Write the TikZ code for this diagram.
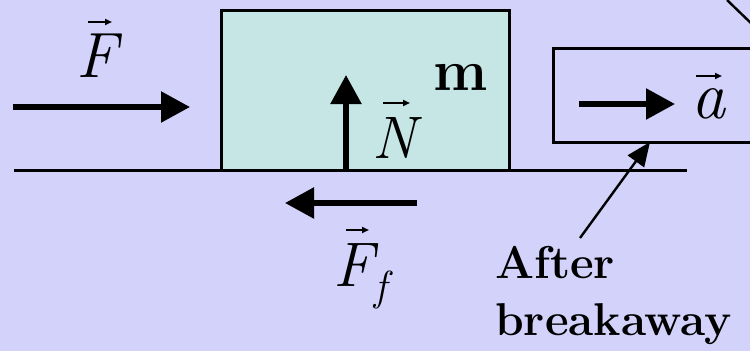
\documentclass[tikz,border=0pt]{standalone}
\usepackage{fontspec}
\usetikzlibrary{arrows.meta}
\definecolor{bg}{RGB}{210,210,250}
\definecolor{blockfill}{RGB}{198,229,229}
\tikzset{
  force/.style={line width=5.5pt, -{Triangle[length=29pt,width=30pt]}},
  accent/.style={line width=2pt, -{Triangle[length=7pt,width=6pt]}},
  pointer/.style={line width=2.4pt, -{Triangle[length=24pt,width=20pt]}},
  outline/.style={draw=black, line width=3pt},
  lab/.style={inner sep=0pt, anchor=base},
}
\newcommand\heavybf{\bfseries\addfontfeatures{FakeBold=1.5}}
\newcommand\medit{\itshape\addfontfeatures{FakeBold=0.6}}
\begin{document}
\begin{tikzpicture}[x=1pt,y=-1pt]
\fill[bg] (0,0) rectangle (750,351);
\useasboundingbox (0,0) rectangle (750,351);
\clip (0,0) rectangle (750,351);
% block
\node[outline, fill=blockfill, minimum width=288pt, minimum height=160pt, inner sep=0pt] (block) at (365,90) {};
% acceleration box
\node[outline, minimum width=227pt, minimum height=94pt, inner sep=0pt] (abox) at (666.5,95) {};
% ground
\coordinate (gl) at (14,170);
\coordinate (gr) at (687,170);
\draw[line width=3pt] (gl) -- (gr);
% applied force
\coordinate (Fs) at (13,107);
\coordinate (Fe) at (190,107);
\draw[force] (Fs) -- (Fe);
\node[lab, font=\fontsize{64}{64}\selectfont\medit] (Flab) at (97,77) {F};
\draw[accent] (88,22) -- (112,22);
% normal force
\coordinate (Ns) at (346,170);
\coordinate (Ne) at (346,75);
\draw[force] (Ns) -- (Ne);
\node[lab, font=\fontsize{60}{60}\selectfont\medit] (Nlab) at (394,158) {N};
\draw[accent] (383,103) -- (410,103);
% mass
\node[lab, font=\fontsize{58}{58}\selectfont\heavybf] (mlab) at (461,90) {m};
% friction
\coordinate (Ffs) at (417,203);
\coordinate (Ffe) at (285,203);
\draw[force] (Ffs) -- (Ffe);
\node[lab, font=\fontsize{63}{63}\selectfont\medit] (Fflab) at (354,286) {F};
\node[lab, font=\fontsize{42}{42}\selectfont\medit] (fsub) at (381,300) {f};
\draw[accent] (346,230) -- (369,230);
% acceleration
\coordinate (as) at (579,104);
\coordinate (ae) at (675,104);
\draw[force] (as) -- (ae);
\node[lab, font=\fontsize{68}{68}\selectfont\medit] (alab) at (708,118) {a};
\draw[accent] (696,76) -- (722,76);
% after breakaway
\node[inner sep=0pt, anchor=north west, align=left, font=\fontsize{46}{57}\selectfont\heavybf] (txt) at (495,246) {After\\breakaway};
\coordinate (ptail) at (580,238);
\coordinate (ptip) at (650,142);
\draw[pointer] (ptail) -- (ptip);
% partial line top right
\coordinate (d1) at (727,0);
\coordinate (d2) at (756,28);
\draw[line width=2.4pt] (d1) -- (d2);
\end{tikzpicture}
\end{document}
